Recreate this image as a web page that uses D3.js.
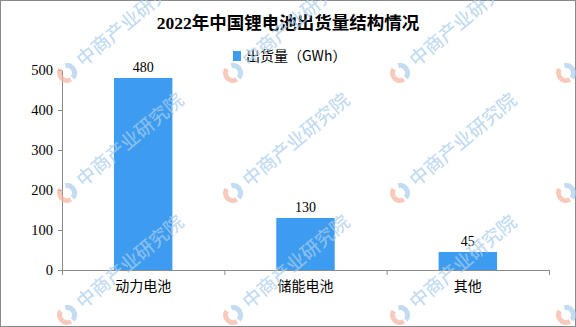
<!DOCTYPE html>
<html>
<head>
<meta charset="utf-8">
<script src="https://cdn.jsdelivr.net/npm/d3@7"></script>
<style>
  body { margin: 0; background: #fff; }
  svg { display: block; }
</style>
</head>
<body>
<svg id="chart" width="576" height="327"></svg>
<script>
// data
let categories = ["动力电池", "储能电池", "其他"];
let shipments = [480, 130, 45];
let yTicks = [0, 100, 200, 300, 400, 500];
let title = "2022年中国锂电池出货量结构情况";
let seriesName = "出货量（GWh）";
let watermarkText = "中商产业研究院";

let svg = d3.select("#chart"),
    width = +svg.attr("width"),
    height = +svg.attr("height"),
    margin = { top: 70, right: 27, bottom: 57, left: 62 },
    innerW = width - margin.left - margin.right,
    innerH = height - margin.top - margin.bottom;

let serif = "'Liberation Serif', 'Times New Roman', 'Noto Sans CJK SC', serif";
let cjk = "'Noto Sans CJK SC', 'Liberation Serif', sans-serif";
let barColor = "#3d9cf0";
let axisColor = "#8c8c8c";

// border
svg.append("rect")
    .attr("x", 0.5).attr("y", 0.5)
    .attr("width", width - 1).attr("height", height - 1)
    .attr("fill", "none")
    .attr("stroke", "#8a8a8a");

let g = svg.append("g").attr("transform", "translate(" + margin.left + "," + margin.top + ")");

let x = d3.scaleBand()
    .domain(categories)
    .range([0, innerW])
    .paddingInner(0.64)
    .paddingOuter(0.32);

let y = d3.scaleLinear()
    .domain([0, 500])
    .range([innerH, 0]);

// bars
g.append("g")
  .selectAll("rect")
  .data(shipments)
  .enter().append("rect")
    .attr("x", function(d, i) { return x(categories[i]); })
    .attr("y", function(d) { return y(d); })
    .attr("width", x.bandwidth())
    .attr("height", function(d) { return y(0) - y(d); })
    .attr("fill", barColor);

// value labels
g.append("g")
  .selectAll("text")
  .data(shipments)
  .enter().append("text")
    .attr("x", function(d, i) { return x(categories[i]) + x.bandwidth() / 2; })
    .attr("y", function(d) { return y(d) - 6; })
    .attr("text-anchor", "middle")
    .attr("font-family", serif)
    .attr("font-size", 14)
    .attr("fill", "#000")
    .text(function(d) { return d; });

// y axis
let yAxis = g.append("g")
    .call(d3.axisLeft(y).tickValues(yTicks).tickSize(4).tickSizeOuter(0).tickPadding(5));
yAxis.selectAll("path, line").attr("stroke", axisColor);
yAxis.selectAll("text")
    .attr("font-family", serif)
    .attr("font-size", 14.5)
    .attr("fill", "#000");

// x axis
let xAxis = g.append("g")
    .attr("transform", "translate(0," + innerH + ")")
    .call(d3.axisBottom(x).tickSize(0).tickSizeOuter(0).tickPadding(11));
xAxis.select(".domain").attr("stroke", axisColor);
xAxis.selectAll("text")
    .attr("font-family", cjk)
    .attr("font-size", 14)
    .attr("fill", "#000");
let bounds = categories.map(function(c) { return x(c) - x.step() * x.paddingOuter(); });
bounds.push(innerW);
xAxis.selectAll(".bound")
  .data(bounds)
  .enter().append("line")
    .attr("class", "bound")
    .attr("x1", function(d) { return d + 0.5; })
    .attr("x2", function(d) { return d + 0.5; })
    .attr("y1", 0)
    .attr("y2", 5)
    .attr("stroke", axisColor);

// title
svg.append("text")
    .attr("x", width / 2)
    .attr("y", 29)
    .attr("text-anchor", "middle")
    .attr("font-family", serif)
    .attr("font-weight", "bold")
    .attr("font-size", 17.5)
    .attr("fill", "#000")
    .text(title);

// legend
let legend = svg.append("g").attr("transform", "translate(233,51)");
legend.append("rect")
    .attr("width", 8)
    .attr("height", 10)
    .attr("fill", barColor);
legend.append("text")
    .attr("x", 13)
    .attr("y", 5)
    .attr("dy", "0.35em")
    .attr("font-family", cjk)
    .attr("font-size", 14)
    .attr("fill", "#000")
    .text(seriesName);

// watermark grid, drawn over the chart
let wm = svg.append("g").attr("opacity", 0.7);
let wmCols = [67, 233, 400, 566], wmRows = [-47, 73, 193, 315];
wmRows.forEach(function(ry) {
  wmCols.forEach(function(cx) {
    let w = wm.append("g").attr("transform", "translate(" + cx + "," + ry + ") rotate(-40)");
    w.append("path")
        .attr("d", d3.arc().innerRadius(5).outerRadius(10).startAngle(-Math.PI * 0.95).endAngle(-Math.PI * 0.1)())
        .attr("fill", "#f4b3a0");
    w.append("path")
        .attr("d", d3.arc().innerRadius(5).outerRadius(10).startAngle(Math.PI * 0.15).endAngle(Math.PI * 0.95)())
        .attr("fill", "#a9cdec");
    w.append("text")
        .attr("x", 16)
        .attr("dy", "0.35em")
        .attr("font-family", cjk)
        .attr("font-weight", 500)
        .attr("font-size", 19)
        .attr("fill", "#a9cdec")
        .text(watermarkText);
  });
});
</script>
</body>
</html>
